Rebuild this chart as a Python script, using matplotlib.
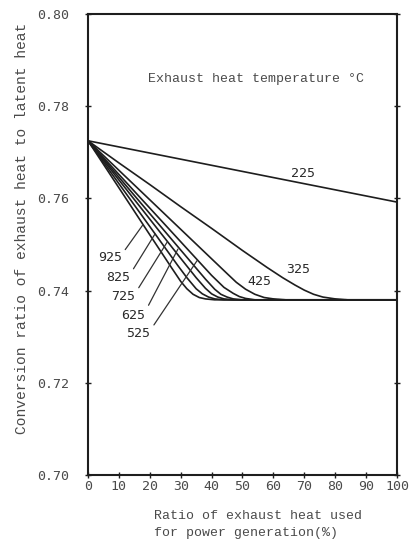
import matplotlib
matplotlib.use("Agg")
import matplotlib.pyplot as plt

# exhaust heat used for power generation (%) vs conversion ratio, per exhaust temperature
x_225 = [0, 100]
y_225 = [0.7725, 0.7592]

x_325 = [0, 10, 20, 30, 40, 50, 58, 63, 67, 70, 73, 76, 80, 84, 100]
y_325 = [0.7725, 0.7677, 0.7630, 0.7582, 0.7535, 0.7487, 0.7450, 0.7428,
         0.7412, 0.7401, 0.7392, 0.7386, 0.7382, 0.7380, 0.7380]

x_425 = [0, 10, 20, 30, 40, 45, 48, 51, 54, 57, 60, 64, 100]
y_425 = [0.7725, 0.7661, 0.7597, 0.7533, 0.7469, 0.7437, 0.7418, 0.7403,
         0.7392, 0.7385, 0.7382, 0.7380, 0.7380]

x_525 = [0, 10, 20, 30, 40, 44, 47, 49, 51, 54, 100]
y_525 = [0.7725, 0.7652, 0.7579, 0.7506, 0.7433, 0.7407, 0.7394, 0.7387,
         0.7383, 0.7380, 0.7380]

x_625 = [0, 10, 20, 30, 38, 41, 43, 45, 47, 50, 100]
y_625 = [0.7725, 0.7646, 0.7567, 0.7488, 0.7425, 0.7403, 0.7392, 0.7386,
         0.7382, 0.7380, 0.7380]

x_725 = [0, 10, 20, 30, 35, 38, 40, 42, 44, 47, 100]
y_725 = [0.7725, 0.7640, 0.7555, 0.7470, 0.7428, 0.7405, 0.7393, 0.7386,
         0.7382, 0.7380, 0.7380]

x_825 = [0, 10, 20, 29, 32, 35, 37, 39, 41, 44, 100]
y_825 = [0.7725, 0.7632, 0.7539, 0.7455, 0.7428, 0.7404, 0.7393, 0.7386,
         0.7382, 0.7380, 0.7380]

x_925 = [0, 10, 20, 27, 30, 32, 34, 36, 38, 41, 100]
y_925 = [0.7725, 0.7623, 0.7521, 0.7450, 0.7420, 0.7404, 0.7392, 0.7385,
         0.7382, 0.7380, 0.7380]

x_ticks = [0, 10, 20, 30, 40, 50, 60, 70, 80, 90, 100]
y_ticks = [0.70, 0.72, 0.74, 0.76, 0.78, 0.80]
y_ticklabels = ["0.70", "0.72", "0.74", "0.76", "0.78", "0.80"]

LINE = "#1e1e1e"
TEXT = "#4a4a4a"
MONO = ["DejaVu Sans Mono"]
TYPE = ["Liberation Mono", "DejaVu Sans Mono"]

fig = plt.figure(figsize=(4.14, 5.39), dpi=100)
ax = fig.add_axes([88 / 414, 64 / 539, 309 / 414, 461 / 539])

for xs, ys in [(x_225, y_225), (x_325, y_325), (x_425, y_425), (x_525, y_525),
               (x_625, y_625), (x_725, y_725), (x_825, y_825), (x_925, y_925)]:
    ax.plot(xs, ys, color=LINE, lw=1.2, solid_joinstyle="round")

ax.set_xlim(0, 100)
ax.set_ylim(0.70, 0.80)
ax.set_xticks(x_ticks)
ax.set_yticks(y_ticks)
ax.set_yticklabels(y_ticklabels)
for lab in ax.get_xticklabels() + ax.get_yticklabels():
    lab.set_family(MONO)
    lab.set_color(TEXT)
    lab.set_fontsize(9.5)

ax.tick_params(axis="x", direction="inout", length=5, width=1, pad=1,
               color=LINE)
ax.tick_params(axis="y", direction="inout", length=5, width=1, pad=11,
               color=LINE, right=True)
for s in ax.spines.values():
    s.set_linewidth(1.5)
    s.set_color(LINE)

# curve labels
lab_kw = dict(fontsize=9.5, color="#2a2a2a", family=MONO,
              ha="center", va="center")
ax.text(69.6, 0.7655, "225", **lab_kw)
ax.text(68.0, 0.7445, "325", **lab_kw)
ax.text(55.3, 0.7419, "425", **lab_kw)

# leader-line labels for the hot cluster
leaders = [
    ("925", (7.0, 0.7471), (17.8, 0.7543)),
    ("825", (9.7, 0.7428), (21.7, 0.7523)),
    ("725", (11.4, 0.7387), (25.6, 0.7505)),
    ("625", (14.6, 0.7347), (29.1, 0.7490)),
    ("525", (16.3, 0.7307), (35.3, 0.7465)),
]
for txt, pos, tip in leaders:
    ax.annotate(txt, xy=tip, xytext=pos, textcoords="data", **lab_kw,
                arrowprops=dict(arrowstyle="-", color="#333333", lw=0.9,
                                shrinkA=1, shrinkB=0, relpos=(1.0, 0.75)))

ax.text(19.4, 0.7859, "Exhaust heat temperature °C", fontsize=9.5,
        color=TEXT, family=TYPE, ha="left", va="center")

fig.text(22 / 414, 1 - 228 / 539,
         "Conversion ratio of exhaust heat to latent heat",
         rotation=90, fontsize=10.5, color=TEXT, family=TYPE,
         ha="center", va="center")
fig.text(154 / 414, 1 - 510 / 539,
         "Ratio of exhaust heat used\nfor power generation(%)",
         fontsize=9.5, color=TEXT, family=TYPE, ha="left", va="top",
         linespacing=1.6)

fig.savefig("out.png", dpi=100)
